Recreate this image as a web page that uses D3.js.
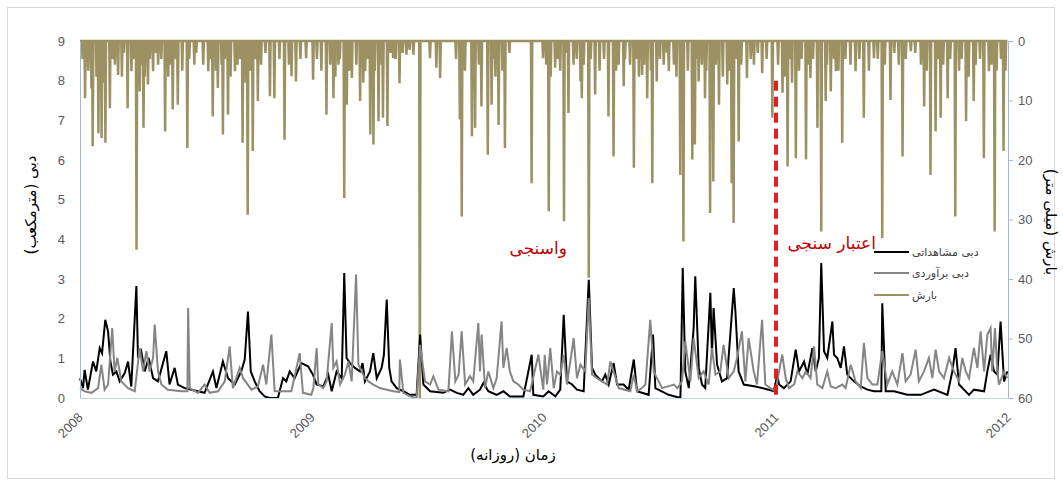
<!DOCTYPE html>
<html><head><meta charset="utf-8">
<script src="https://cdn.jsdelivr.net/npm/d3@7"></script>
<style>
html,body{margin:0;padding:0;background:#fff;}
svg{display:block;}
</style></head>
<body><svg id="c" width="1063" height="482"></svg>
<script>
// ---------- DATA (t = years since 1 Jan 2008) ----------
const yearTicks = [2008, 2009, 2010, 2011, 2012];
const leftTicks = [0,1,2,3,4,5,6,7,8,9];
const rightTicks = [0,10,20,30,40,50,60];
const seriesNames = ["دبی مشاهداتی", "دبی برآوردی", "بارش"];
const calibLabel = "واسنجی";
const validLabel = "اعتبار سنجی";
const splitYear = 2011;
const leftTitle = "دبی (مترمکعب)";
const rightTitle = "بارش (میلی متر)";
const xTitle = "زمان (روزانه)";

// daily rainfall events [t, mm]; all other days are 0
const rain = [
[0.010,3],[0.023,9.6],[0.035,5],[0.048,8],[0.056,17.7],[0.070,6],[0.080,15.5],[0.092,16.3],[0.100,7],[0.109,17.1],
[0.128,11.3],[0.140,3],[0.150,4],[0.164,5.7],[0.180,6],[0.190,2],[0.204,11.3],[0.221,5.1],[0.230,3],[0.243,35.1],
[0.257,8.5],[0.265,4],[0.274,14.6],[0.280,6],[0.293,7.3],[0.300,3],[0.315,5.1],[0.325,2],[0.336,4.0],[0.350,3],
[0.368,15.2],[0.380,6],[0.390,4],[0.401,11.5],[0.410,3],[0.422,10.7],[0.440,5],[0.463,18.0],[0.470,3],[0.494,4.0],
[0.500,2],[0.530,4],[0.552,5.1],[0.560,3],[0.573,12.7],[0.585,5],[0.595,7.9],[0.610,4],[0.616,15.7],[0.625,3],
[0.638,12.4],[0.650,6],[0.667,5.1],[0.680,4],[0.690,3],[0.700,17.1],[0.710,7],[0.724,29.2],[0.735,5],[0.746,18.5],
[0.755,3],[0.767,10.1],[0.780,4],[0.800,2],[0.818,9.3],[0.839,9.6],[0.860,3],[0.882,16.6],[0.900,4],[0.911,5.9],
[0.932,6.8],[0.950,3],[0.976,2.9],[1.004,6.5],
[1.020,3],[1.040,5],[1.063,12.4],[1.080,4],[1.092,9.6],[1.100,6],[1.114,4.0],[1.120,3],[1.139,26.4],[1.149,10.7],
[1.160,5],[1.171,6.2],[1.190,4],[1.207,10.1],[1.220,7],[1.228,5.1],[1.240,3],[1.250,15.7],[1.264,17.4],[1.270,5],
[1.286,13.5],[1.300,4],[1.307,12.9],[1.325,14.3],[1.340,2],[1.351,2.9],[1.360,3],[1.376,7.1],[1.390,2],[1.408,2.3],
[1.420,1.5],[1.437,2.3],[1.466,60],[1.509,2.9],[1.537,4.5],[1.552,6.2],[1.620,3],[1.638,13.2],[1.645,29.5],[1.660,5],
[1.688,16.0],[1.703,14.6],[1.720,4],[1.731,11.0],[1.757,19.1],[1.774,10.7],[1.780,3],[1.790,6],[1.803,14.1],[1.820,5],
[1.832,18.0],[1.850,2],[1.947,23.9],[1.997,2.9],
[2.010,4],[2.020,28.6],[2.030,6],[2.049,4.5],[2.060,3],[2.070,5],[2.085,30.3],[2.100,2],[2.106,12.1],[2.128,4.0],
[2.140,3],[2.157,6.8],[2.164,9.6],[2.170,4],[2.193,39.8],[2.200,3],[2.221,9.0],[2.240,5],[2.260,3],[2.279,12.7],
[2.300,19.4],[2.310,5],[2.322,4.0],[2.343,7.6],[2.350,3],[2.370,4],[2.387,21.3],[2.400,3],[2.410,6],[2.422,5.7],
[2.430,4],[2.444,9.6],[2.460,5],[2.468,23.9],[2.487,6.8],[2.500,3],[2.516,4.0],[2.530,2],[2.537,5.1],[2.560,4],
[2.570,6],[2.588,22.5],[2.602,33.7],[2.620,5],[2.638,19.9],[2.649,17.4],[2.660,3],[2.667,6.8],[2.680,4],[2.695,9.6],
[2.700,5],[2.717,28.9],[2.731,23.6],[2.740,4],[2.753,10.7],[2.770,6],[2.789,7.3],[2.800,5],[2.810,23.9],[2.818,30.6],
[2.830,3],[2.839,16.9],[2.850,4],[2.875,6.2],[2.890,3],[2.904,4.0],[2.920,2],[2.940,5.4],[2.960,3],[2.983,12.9],
[3.010,4],[3.027,8.7],[3.040,6],[3.049,21.1],[3.060,3],[3.070,7],[3.085,19.7],[3.100,5],[3.110,3],[3.128,19.9],
[3.140,4],[3.149,6.2],[3.160,3],[3.178,14.6],[3.195,32.0],[3.214,10.1],[3.220,4],[3.236,8.5],[3.250,3],[3.257,5.1],
[3.270,5],[3.286,17.1],[3.300,3],[3.320,4],[3.343,5.1],[3.360,3],[3.379,12.9],[3.400,5],[3.422,2.9],[3.440,3],
[3.458,33.1],[3.470,4],[3.494,9.9],[3.510,2],[3.530,4],[3.545,19.4],[3.560,3],[3.580,1.7],[3.600,2],[3.624,4.0],
[3.638,11.0],[3.650,5],[3.667,22.5],[3.688,15.2],[3.700,3],[3.710,12.9],[3.720,4],[3.739,9.6],[3.750,3],[3.774,29.5],
[3.790,5],[3.800,3],[3.818,13.5],[3.830,6],[3.853,10.1],[3.860,4],[3.880,3],[3.897,19.7],[3.918,5.1],[3.930,4],
[3.943,32.0],[3.950,5],[3.970,3],[3.980,18.5],[3.990,5]
];

// observed discharge [t, m3/s]
const observed = [
[0.000,0.50],[0.013,0.25],[0.020,0.71],[0.034,0.21],[0.056,0.92],[0.070,0.67],[0.085,1.26],[0.095,1.13],[0.109,1.97],[0.121,1.68],
[0.131,0.92],[0.142,0.59],[0.157,0.67],[0.171,0.42],[0.193,0.63],[0.207,0.92],[0.221,0.29],[0.243,2.82],[0.250,1.01],[0.264,1.18],
[0.279,0.67],[0.296,1.01],[0.315,0.50],[0.336,0.42],[0.372,1.18],[0.386,0.34],[0.408,0.76],[0.422,0.34],[0.451,0.25],[0.480,0.21],
[0.537,0.13],[0.573,0.67],[0.588,0.25],[0.616,0.92],[0.638,0.50],[0.667,0.34],[0.695,0.67],[0.710,0.97],[0.724,2.18],[0.736,0.67],
[0.753,0.42],[0.774,0.17],[0.796,0.04],[0.818,0.00],[0.853,0.00],[0.875,0.50],[0.889,0.42],[0.904,0.67],[0.925,0.50],[0.954,0.88],
[0.983,0.80],[1.004,0.59],
[1.020,0.34],[1.049,0.29],[1.070,0.59],[1.085,0.17],[1.106,0.67],[1.128,0.50],[1.139,3.15],[1.149,1.01],[1.164,0.88],[1.185,0.76],
[1.207,0.67],[1.218,0.88],[1.228,0.42],[1.250,0.67],[1.264,1.13],[1.279,0.50],[1.300,0.76],[1.310,1.09],[1.322,2.48],[1.333,0.76],
[1.343,0.42],[1.365,0.25],[1.394,0.17],[1.422,0.08],[1.451,0.08],[1.466,1.60],[1.480,0.34],[1.509,0.17],[1.566,0.13],[1.595,0.21],
[1.624,0.13],[1.652,0.08],[1.674,0.25],[1.695,0.08],[1.724,0.21],[1.739,0.38],[1.760,0.17],[1.796,0.08],[1.825,0.17],[1.853,0.04],
[1.911,0.04],[1.947,1.09],[1.954,0.08],[1.997,0.04],
[2.020,0.17],[2.049,0.04],[2.070,0.21],[2.085,2.10],[2.099,0.42],[2.121,0.34],[2.142,0.21],[2.171,0.17],[2.193,2.98],[2.207,0.76],
[2.221,0.59],[2.250,0.42],[2.264,0.59],[2.279,0.34],[2.300,0.88],[2.315,0.34],[2.343,0.34],[2.365,0.21],[2.387,0.97],[2.401,0.17],
[2.451,0.08],[2.470,1.60],[2.480,0.25],[2.537,0.08],[2.588,0.00],[2.598,3.28],[2.609,0.67],[2.624,0.25],[2.645,1.76],[2.652,3.07],
[2.667,0.76],[2.681,0.34],[2.695,0.25],[2.717,2.65],[2.724,1.09],[2.731,2.27],[2.746,0.84],[2.767,0.42],[2.789,0.50],[2.818,2.77],
[2.825,2.18],[2.839,0.67],[2.861,0.34],[2.911,0.29],[2.968,0.21],[2.990,0.17],
[3.006,0.59],[3.013,0.34],[3.034,0.25],[3.063,0.42],[3.085,1.22],[3.099,0.67],[3.121,0.92],[3.135,0.59],[3.157,1.26],[3.171,0.67],
[3.185,1.01],[3.195,3.40],[3.207,1.18],[3.221,1.01],[3.243,1.93],[3.250,1.09],[3.264,1.01],[3.279,0.76],[3.293,1.30],[3.307,0.59],
[3.336,0.42],[3.365,0.29],[3.394,0.21],[3.422,0.17],[3.454,0.17],[3.458,2.39],[3.473,0.17],[3.509,0.17],[3.566,0.08],[3.624,0.08],
[3.681,0.21],[3.739,0.08],[3.760,0.67],[3.774,1.26],[3.789,0.34],[3.832,0.08],[3.853,0.21],[3.897,0.17],[3.911,0.67],[3.925,1.09],
[3.940,0.67],[3.954,0.59],[3.968,1.93],[3.983,0.42],[3.997,0.67]
];

// estimated discharge [t, m3/s]
const estimated = [
[0.000,0.25],[0.020,0.17],[0.049,0.13],[0.078,0.25],[0.092,0.84],[0.106,0.21],[0.121,0.34],[0.139,1.76],[0.149,0.67],[0.161,1.01],
[0.178,0.42],[0.207,0.25],[0.236,0.17],[0.257,1.26],[0.272,0.67],[0.286,1.18],[0.300,0.67],[0.315,1.01],[0.322,1.85],[0.336,0.67],
[0.351,0.34],[0.379,0.21],[0.437,0.17],[0.463,0.17],[0.466,2.27],[0.473,0.25],[0.509,0.13],[0.537,0.34],[0.559,0.13],[0.595,0.17],
[0.624,0.42],[0.645,1.30],[0.659,0.25],[0.688,0.76],[0.703,0.50],[0.739,0.21],[0.767,0.29],[0.789,0.84],[0.803,0.34],[0.825,1.60],
[0.839,0.17],[0.911,0.17],[0.947,1.13],[0.961,0.13],[0.997,0.08],
[1.006,0.25],[1.020,1.26],[1.027,0.34],[1.049,0.25],[1.063,0.42],[1.085,1.89],[1.092,0.76],[1.106,0.92],[1.121,0.34],[1.142,0.59],
[1.157,0.92],[1.171,0.42],[1.190,3.11],[1.200,0.84],[1.214,0.67],[1.228,0.50],[1.243,0.42],[1.264,0.34],[1.293,0.25],[1.322,0.21],
[1.351,0.17],[1.376,0.15],[1.379,0.97],[1.394,0.13],[1.422,0.04],[1.451,0.00],[1.466,1.34],[1.487,0.42],[1.509,0.34],[1.523,0.55],
[1.545,0.21],[1.588,0.17],[1.603,1.68],[1.618,0.42],[1.632,0.59],[1.645,1.68],[1.660,0.34],[1.681,0.55],[1.695,0.42],[1.717,1.89],
[1.724,0.67],[1.731,1.60],[1.746,0.25],[1.760,0.67],[1.782,0.25],[1.796,0.50],[1.817,1.93],[1.825,0.76],[1.839,1.26],[1.853,0.67],
[1.868,0.42],[1.889,0.34],[1.911,0.21],[1.940,0.17],[1.976,1.09],[1.997,0.21],
[2.003,1.09],[2.013,0.34],[2.027,1.26],[2.042,0.25],[2.056,0.67],[2.070,0.59],[2.085,1.09],[2.099,0.34],[2.128,1.51],[2.142,0.50],
[2.157,0.84],[2.178,0.67],[2.193,2.52],[2.207,0.59],[2.228,0.50],[2.250,0.42],[2.272,0.34],[2.286,0.92],[2.300,0.67],[2.322,0.25],
[2.372,0.17],[2.387,0.59],[2.401,0.17],[2.422,0.25],[2.437,0.34],[2.458,1.97],[2.473,0.67],[2.487,0.50],[2.509,0.25],[2.560,0.34],
[2.575,0.25],[2.595,0.42],[2.609,1.43],[2.631,0.42],[2.645,1.51],[2.667,0.50],[2.688,0.67],[2.710,0.34],[2.724,1.26],[2.739,0.59],
[2.760,0.67],[2.774,1.34],[2.796,0.50],[2.818,0.67],[2.832,1.01],[2.853,1.68],[2.868,0.42],[2.882,1.51],[2.904,0.67],[2.918,0.34],
[2.940,1.97],[2.954,0.34],[2.976,0.25],[2.997,0.17],
[3.003,0.34],[3.013,0.67],[3.027,1.09],[3.042,0.50],[3.056,0.25],[3.078,0.34],[3.092,0.67],[3.114,0.50],[3.128,0.67],[3.149,0.50],
[3.164,1.30],[3.178,0.34],[3.200,0.25],[3.221,0.67],[3.236,0.29],[3.257,0.25],[3.286,0.34],[3.300,0.25],[3.322,0.84],[3.343,0.42],
[3.365,0.25],[3.379,1.39],[3.394,0.50],[3.416,0.34],[3.437,0.34],[3.458,1.18],[3.480,0.34],[3.501,0.67],[3.523,0.34],[3.545,1.13],
[3.559,0.42],[3.580,0.59],[3.602,1.22],[3.616,0.42],[3.638,0.67],[3.659,1.01],[3.674,0.50],[3.688,1.22],[3.703,0.67],[3.724,0.50],
[3.746,1.01],[3.767,0.67],[3.789,0.42],[3.803,1.01],[3.818,0.67],[3.832,0.50],[3.853,1.26],[3.868,0.76],[3.882,1.68],[3.897,0.67],
[3.911,1.60],[3.925,1.76],[3.932,0.67],[3.944,1.76],[3.954,0.67],[3.961,0.34],[3.983,0.67],[3.997,0.50]
];

// ---------- DRAW ----------
const svg = d3.select("#c");
const X0 = 80, X1 = 1008, YT = 41, YB = 398;
const startYear = 2008;
const nDays = 1461;

const x = d3.scaleLinear().domain([2008, 2012]).range([X0, X1]);
const yL = d3.scaleLinear().domain([0, 9]).range([YB, YT]);
const yR = d3.scaleLinear().domain([0, 60]).range([YT, YB]);

const tickFont = "'Liberation Sans', Arial, sans-serif";
const faFont = "'DejaVu Sans', sans-serif";

// outer border
svg.append("rect").attr("x", 7.5).attr("y", 7.5).attr("width", 1047).attr("height", 471)
  .attr("fill", "#fff").attr("stroke", "#d9d9d9");

// rainfall daily series
const rainMap = new Map(rain.map(d => [Math.round(d[0] * 365.25), d[1]]));
const rainDaily = d3.range(nDays).map(i => [startYear + i / 365.25, rainMap.get(i) || 0]);
svg.append("path").datum(rainDaily)
  .attr("fill", "none").attr("stroke", "#9c9162").attr("stroke-width", 2.5)
  .attr("stroke-linejoin", "miter")
  .attr("d", d3.line().x(d => x(d[0])).y(d => yR(d[1])));

const qLine = d3.line().x(d => x(startYear + d[0])).y(d => yL(d[1]));
svg.append("path").datum(observed)
  .attr("fill", "none").attr("stroke", "#000").attr("stroke-width", 2).attr("d", qLine);
svg.append("path").datum(estimated)
  .attr("fill", "none").attr("stroke", "#858585").attr("stroke-width", 2).attr("d", qLine);

// axes
const axisCol = "#9fbcd2";
const gL = svg.append("g").attr("transform", `translate(${X0},0)`)
  .call(d3.axisLeft(yL).tickValues(leftTicks).tickSize(0).tickPadding(15));
const gR = svg.append("g").attr("transform", `translate(${X1},0)`)
  .call(d3.axisRight(yR).tickValues(rightTicks).tickSize(5).tickPadding(5));
const gB = svg.append("g").attr("transform", `translate(0,${YB})`)
  .call(d3.axisBottom(x).tickValues(yearTicks).tickSize(0).tickFormat(d3.format("d")));
[gL, gR, gB].forEach(g => {
  g.select(".domain").attr("stroke", axisCol).attr("stroke-width", 1);
  g.selectAll(".tick line").attr("stroke", axisCol);
  g.selectAll("text").attr("fill", "#595959").style("font-family", tickFont).style("font-size", "13px");
});
gB.select(".domain").attr("stroke", "#c9d6e0");
gB.selectAll("text")
  .attr("text-anchor", "end")
  .attr("transform", "translate(0,17) rotate(-45)")
  .attr("dy", "0.35em").attr("y", 0);

// split line
svg.append("line")
  .attr("x1", x(splitYear)).attr("x2", x(splitYear))
  .attr("y1", yL(8)).attr("y2", YB)
  .attr("stroke", "#e02020").attr("stroke-width", 4).attr("stroke-dasharray", "10,6");

// annotations
svg.append("text").attr("x", x(2009.975)).attr("y", 254).attr("text-anchor", "middle")
  .attr("fill", "#c00000").style("font-family", faFont).style("font-size", "17px").text(calibLabel);
svg.append("text").attr("x", x(2011.24)).attr("y", 249).attr("text-anchor", "middle")
  .attr("fill", "#c00000").style("font-family", faFont).style("font-size", "17px").text(validLabel);

// legend
const legCols = ["#000", "#858585", "#9c9162"];
const legY = [252, 273, 295];
seriesNames.forEach((n, i) => {
  svg.append("line").attr("x1", 874).attr("x2", 909).attr("y1", legY[i]).attr("y2", legY[i])
    .attr("stroke", legCols[i]).attr("stroke-width", 2.2);
  svg.append("text").attr("x", 912).attr("y", legY[i] + 4).attr("text-anchor", "start")
    .attr("fill", "#404040").style("font-family", faFont).style("font-size", "11px").text(n);
});

// axis titles
svg.append("text").attr("transform", "translate(36,205) rotate(-90)").attr("text-anchor", "middle")
  .attr("fill", "#000").style("font-family", faFont).style("font-size", "15px").text(leftTitle);
svg.append("text").attr("transform", "translate(1046,222) rotate(90)").attr("text-anchor", "middle")
  .attr("fill", "#000").style("font-family", faFont).style("font-size", "15px").text(rightTitle);
svg.append("text").attr("x", 513).attr("y", 460).attr("text-anchor", "middle")
  .attr("fill", "#000").style("font-family", faFont).style("font-size", "15px").text(xTitle);
</script>
</body></html>
